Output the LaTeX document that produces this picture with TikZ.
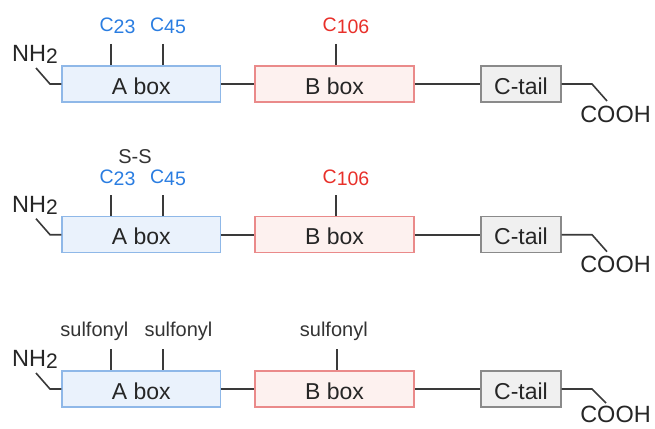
\documentclass[tikz,border=0pt]{standalone}
\usepackage{fontspec}
\setmainfont{Liberation Sans}
\definecolor{lblblue}{HTML}{2A7DE1}
\definecolor{lblred}{HTML}{E8302A}
\definecolor{afill}{HTML}{EAF2FC}
\definecolor{adraw}{HTML}{8FB8E8}
\definecolor{bfill}{HTML}{FDF1EF}
\definecolor{bdraw}{HTML}{EA8A8A}
\definecolor{cfill}{HTML}{F0F0F0}
\definecolor{cdraw}{HTML}{8A8A8A}
\definecolor{linec}{HTML}{3A3A3A}
\tikzset{
  protbox/.style={draw, line width=1.2pt, inner sep=0pt, minimum height=36pt,
     text height=20pt, text depth=0pt, font=\fontsize{23}{27}\selectfont, text=black!85},
  abox/.style={protbox, fill=afill, draw=adraw, minimum width=158.5pt},
  bbox/.style={protbox, fill=bfill, draw=bdraw, minimum width=159pt},
  cbox/.style={protbox, fill=cfill, draw=cdraw, minimum width=80pt},
  link/.style={draw=linec, line width=1.6pt},
  term/.style={inner sep=0pt, anchor=base, font=\fontsize{23.5}{27}\selectfont, text=black!85},
  clbl/.style={inner sep=0pt, anchor=base, font=\fontsize{19.5}{23}\selectfont},
  slbl/.style={inner sep=0pt, anchor=base, font=\fontsize{20}{23}\selectfont, text=black!80},
}
\begin{document}
\begin{tikzpicture}[x=1pt, y=-1pt]
\useasboundingbox (0,0) rectangle (655,428);
% ---------- row 1 ----------
\begin{scope}
  \node[abox] (A1) at (141.25,84) {A box};
  \node[bbox] (B1) at (334.5,84) {B box};
  \node[cbox] (C1) at (521,84) {C-tail};
  \node[term] (N1) at (35,61.7) {NH\raisebox{-2pt}{\fontsize{21}{24}\selectfont 2}};
  \node[term] (O1) at (615.5,122) {COOH};
  \coordinate (n1a) at (36,68); \coordinate (n1b) at (50,84);
  \coordinate (o1a) at (592,84); \coordinate (o1b) at (607,101);
  \draw[link] (n1a) -- (n1b) -- (A1.west);
  \draw[link] (A1.east) -- (B1.west);
  \draw[link] (B1.east) -- (C1.west);
  \draw[link] (C1.east) -- (o1a) -- (o1b);
  \coordinate (t1a) at (111,44); \coordinate (t1b) at (163,44); \coordinate (t1c) at (336,44);
  \draw[link] (t1a) -- (t1a |- A1.north);
  \draw[link] (t1b) -- (t1b |- A1.north);
  \draw[link] (t1c) -- (t1c |- B1.north);
  \node[clbl, text=lblblue] (L1a) at (117.5,32) {C\raisebox{-1.7pt}{23}};
  \node[clbl, text=lblblue] (L1b) at (168,32) {C\raisebox{-1.7pt}{45}};
  \node[clbl, text=lblred] (L1c) at (346,32) {C\raisebox{-1.7pt}{106}};
\end{scope}
% ---------- row 2 ----------
\begin{scope}[shift={(0,150.7)}]
  \node[abox] (A2) at (141.25,84) {A box};
  \node[bbox] (B2) at (334.5,84) {B box};
  \node[cbox] (C2) at (521,84) {C-tail};
  \node[term] (N2) at (35,61.7) {NH\raisebox{-2pt}{\fontsize{21}{24}\selectfont 2}};
  \node[term] (O2) at (615.5,122) {COOH};
  \coordinate (n2a) at (36,68); \coordinate (n2b) at (50,84);
  \coordinate (o2a) at (592,84); \coordinate (o2b) at (607,101);
  \draw[link] (n2a) -- (n2b) -- (A2.west);
  \draw[link] (A2.east) -- (B2.west);
  \draw[link] (B2.east) -- (C2.west);
  \draw[link] (C2.east) -- (o2a) -- (o2b);
  \coordinate (t2a) at (111,44.5); \coordinate (t2b) at (163,44.5); \coordinate (t2c) at (336,44.5);
  \draw[link] (t2a) -- (t2a |- A2.north);
  \draw[link] (t2b) -- (t2b |- A2.north);
  \draw[link] (t2c) -- (t2c |- B2.north);
  \node[slbl] (S2) at (135,12.8) {S-S};
  \node[clbl, text=lblblue] (L2a) at (117.5,32.6) {C\raisebox{-1.7pt}{23}};
  \node[clbl, text=lblblue] (L2b) at (168,32.6) {C\raisebox{-1.7pt}{45}};
  \node[clbl, text=lblred] (L2c) at (346,32.6) {C\raisebox{-1.7pt}{106}};
\end{scope}
% ---------- row 3 ----------
\begin{scope}[shift={(0,305)}]
  \node[abox] (A3) at (141.25,84) {A box};
  \node[bbox] (B3) at (334.5,84) {B box};
  \node[cbox] (C3) at (521,84) {C-tail};
  \node[term] (N3) at (35,61.7) {NH\raisebox{-2pt}{\fontsize{21}{24}\selectfont 2}};
  \node[term] (O3) at (615.5,117.5) {COOH};
  \coordinate (n3a) at (36,68); \coordinate (n3b) at (50,84);
  \coordinate (o3a) at (592,84); \coordinate (o3b) at (606,98);
  \draw[link] (n3a) -- (n3b) -- (A3.west);
  \draw[link] (A3.east) -- (B3.west);
  \draw[link] (B3.east) -- (C3.west);
  \draw[link] (C3.east) -- (o3a) -- (o3b);
  \coordinate (t3a) at (111,44.3); \coordinate (t3b) at (163,44.3); \coordinate (t3c) at (337,44.3);
  \draw[link] (t3a) -- (t3a |- A3.north);
  \draw[link] (t3b) -- (t3b |- A3.north);
  \draw[link] (t3c) -- (t3c |- B3.north);
  \node[slbl] (L3a) at (94.3,31.7) {sulfonyl};
  \node[slbl] (L3b) at (178.5,31.7) {sulfonyl};
  \node[slbl] (L3c) at (333.8,31.3) {sulfonyl};
\end{scope}
\end{tikzpicture}
\end{document}
